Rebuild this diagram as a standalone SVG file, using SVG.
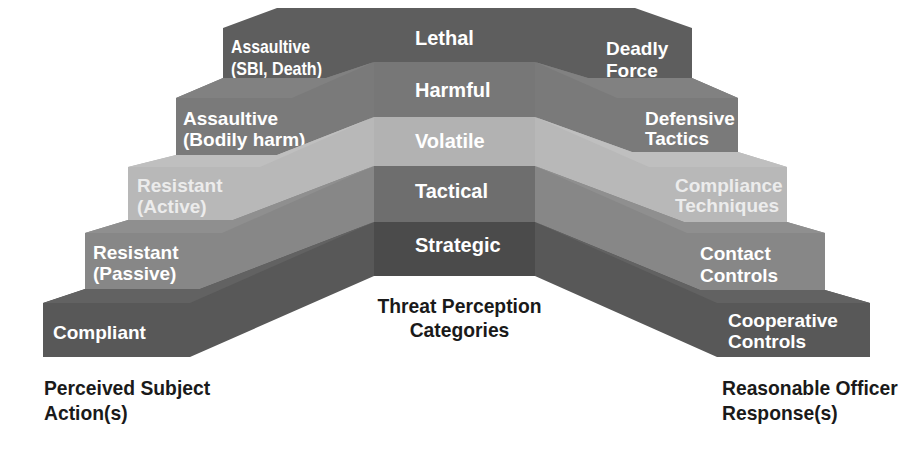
<svg xmlns="http://www.w3.org/2000/svg" width="915" height="453" viewBox="0 0 915 453">
<style>
.lbl{font-family:"Liberation Sans",Arial,sans-serif;font-weight:bold;font-size:19px;fill:#ffffff}
.mid{font-family:"Liberation Sans",Arial,sans-serif;font-weight:bold;font-size:20px;fill:#ffffff}
.faint{fill:#ececec}
.cap{font-family:"Liberation Sans",Arial,sans-serif;font-weight:bold;font-size:19.3px;fill:#1a1a1a}
</style>
<rect width="915" height="453" fill="#ffffff"/>

<g id="level-lethal">
<polygon points="223,28 277,8 635,8 692,28 692,80 588,80 535,64 374,64 326,80 223,80" fill="#5e5e5e"/>
<text class="mid" x="415" y="45">Lethal</text>
<text class="lbl" x="231" y="53" textLength="79" lengthAdjust="spacingAndGlyphs">Assaultive</text>
<text class="lbl" x="231" y="75" textLength="91" lengthAdjust="spacingAndGlyphs">(SBI, Death)</text>
<text class="lbl" x="606" y="55">Deadly</text>
<text class="lbl" x="606" y="77">Force</text>
</g>

<g id="level-harmful">
<polygon points="176,98 223,78 326,78 374,62 535,62 588,78 692,78 738,98 738,154 632,154 535,119 374,119 277,157 176,157" fill="#7a7a7a"/>
<polygon points="176,98 223,78 326,78 374,62 292,98" fill="#818181"/>
<polygon points="738,98 692,78 588,78 535,62 617,98" fill="#818181"/>
<rect x="374" y="62" width="161" height="57" fill="#777777"/>
<text class="mid" x="415" y="97">Harmful</text>
<text class="lbl" x="183" y="125">Assaultive</text>
<text class="lbl" x="183" y="146">(Bodily harm)</text>
<text class="lbl" x="645" y="125">Defensive</text>
<text class="lbl" x="645" y="145">Tactics</text>
</g>

<g id="level-volatile">
<polygon points="128,167 176,155 277,155 374,117 535,117 632,152 738,152 787,167 787,224 684,224 535,168 374,168 233,222 128,222" fill="#b8b8b8"/>
<polygon points="128,167 176,155 277,155 374,117 260,167" fill="#bfbfbf"/>
<polygon points="787,167 738,152 632,152 535,117 649,167" fill="#bfbfbf"/>
<rect x="374" y="117" width="161" height="51" fill="#b2b2b2"/>
<text class="mid" x="415" y="148">Volatile</text>
<text class="lbl faint" x="137" y="192">Resistant</text>
<text class="lbl faint" x="137" y="213">(Active)</text>
<text class="lbl faint" x="675" y="192">Compliance</text>
<text class="lbl faint" x="675" y="212">Techniques</text>
</g>

<g id="level-tactical">
<polygon points="85,233 128,220 233,220 374,166 535,166 684,222 787,222 825,233 825,292 700,292 535,224 374,224 200,291 85,291" fill="#878787"/>
<polygon points="85,233 128,220 233,220 374,166 222,233" fill="#8f8f8f"/>
<polygon points="825,233 787,222 684,222 535,166 687,233" fill="#8f8f8f"/>
<rect x="374" y="166" width="161" height="58" fill="#6e6e6e"/>
<text class="mid" x="415" y="198">Tactical</text>
<text class="lbl" x="93" y="259">Resistant</text>
<text class="lbl" x="93" y="280">(Passive)</text>
<text class="lbl" x="700" y="260">Contact</text>
<text class="lbl" x="700" y="282">Controls</text>
</g>

<g id="level-strategic">
<polygon points="43,303 85,289 200,289 374,222 535,222 700,290 825,290 870,303 870,357 717,357 535,276 374,276 190,357 43,357" fill="#585858"/>
<polygon points="43,303 85,289 200,289 374,222 190,303" fill="#626262"/>
<polygon points="870,303 825,290 700,290 535,222 717,303" fill="#626262"/>
<rect x="374" y="222" width="161" height="54" fill="#4b4b4b"/>
<text class="mid" x="415" y="252">Strategic</text>
<text class="lbl" x="53" y="339">Compliant</text>
<text class="lbl" x="728" y="327">Cooperative</text>
<text class="lbl" x="728" y="348">Controls</text>
</g>

<g id="captions">
<text class="cap" x="459.5" y="313" text-anchor="middle">Threat Perception</text>
<text class="cap" x="459.5" y="337" text-anchor="middle">Categories</text>
<text class="cap" x="44" y="395">Perceived Subject</text>
<text class="cap" x="44" y="420">Action(s)</text>
<text class="cap" x="722" y="395">Reasonable Officer</text>
<text class="cap" x="722" y="420">Response(s)</text>
</g>
</svg>
